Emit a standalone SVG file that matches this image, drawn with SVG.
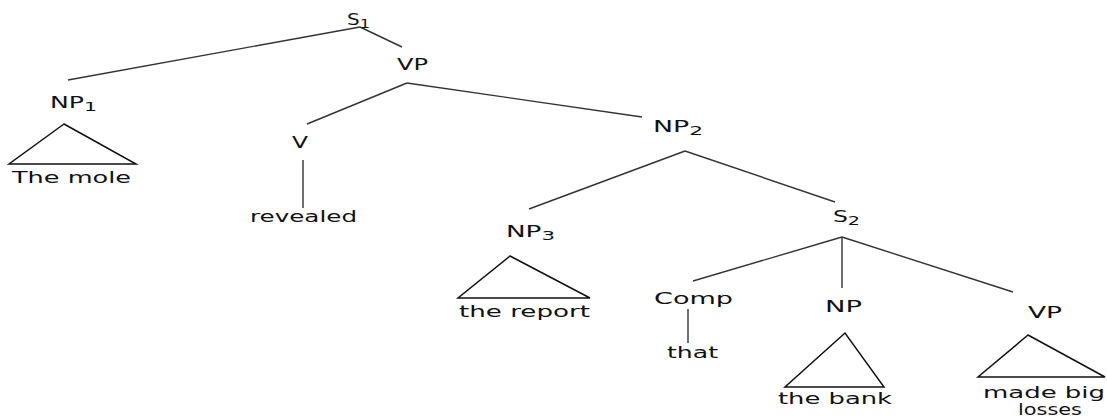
<svg xmlns="http://www.w3.org/2000/svg" width="1107" height="419" viewBox="0 0 1107 419">
<style>
text{font-family:"DejaVu Sans","Open Sans",sans-serif;font-size:16px;fill:#111;text-anchor:middle}
.sub{font-size:13px}
line{stroke:#333;stroke-width:1.4;fill:none}
.tri{stroke:#111;stroke-width:1.5;fill:none}
</style>
<rect width="1107" height="419" fill="#fff"/>
<g id="connectors">
<line x1="360" y1="27" x2="68" y2="80"/>
<line x1="360" y1="27" x2="402" y2="47"/>
<line x1="407" y1="83" x2="307" y2="124"/>
<line x1="407" y1="83" x2="642" y2="117"/>
<line x1="303" y1="160" x2="303" y2="208"/>
<line x1="685" y1="151" x2="529" y2="209"/>
<line x1="685" y1="151" x2="835" y2="202"/>
<line x1="842" y1="237" x2="693" y2="281"/>
<line x1="842" y1="237" x2="842" y2="288"/>
<line x1="842" y1="237" x2="1013" y2="292"/>
<line x1="688" y1="309" x2="688" y2="343"/>
</g>
<g id="S1"><text x="358.5" y="25" textLength="23" lengthAdjust="spacingAndGlyphs">S<tspan class="sub" dy="3">1</tspan></text></g>
<g id="VP1"><text x="412.5" y="70" textLength="31" lengthAdjust="spacingAndGlyphs">VP</text></g>
<g id="NP1"><text x="73.5" y="108" textLength="47" lengthAdjust="spacingAndGlyphs">NP<tspan class="sub" dy="3">1</tspan></text>
<polygon class="tri" points="64,124 9,164 136,164"/>
<text x="71.5" y="183" textLength="119" lengthAdjust="spacingAndGlyphs">The mole</text></g>
<g id="V"><text x="300" y="148" textLength="16" lengthAdjust="spacingAndGlyphs">V</text>
<text x="303.5" y="222" textLength="107" lengthAdjust="spacingAndGlyphs">revealed</text></g>
<g id="NP2"><text x="678" y="132" textLength="50" lengthAdjust="spacingAndGlyphs">NP<tspan class="sub" dy="3">2</tspan></text></g>
<g id="NP3"><text x="530.5" y="237" textLength="49" lengthAdjust="spacingAndGlyphs">NP<tspan class="sub" dy="3">3</tspan></text>
<polygon class="tri" points="510,256 458,298 590,298"/>
<text x="524.5" y="317" textLength="131" lengthAdjust="spacingAndGlyphs">the report</text></g>
<g id="S2"><text x="846.5" y="222" textLength="27" lengthAdjust="spacingAndGlyphs">S<tspan class="sub" dy="3">2</tspan></text></g>
<g id="Comp"><text x="693.5" y="304" textLength="79" lengthAdjust="spacingAndGlyphs">Comp</text>
<text x="692.5" y="358" textLength="51" lengthAdjust="spacingAndGlyphs">that</text></g>
<g id="NP"><text x="843.5" y="312" textLength="37" lengthAdjust="spacingAndGlyphs">NP</text>
<polygon class="tri" points="845,333 785,387 884,387"/>
<text x="835" y="404" textLength="114" lengthAdjust="spacingAndGlyphs">the bank</text></g>
<g id="VP2"><text x="1045" y="318" textLength="34" lengthAdjust="spacingAndGlyphs">VP</text>
<polygon class="tri" points="1028,335 978,377 1105,377"/>
<text x="1044" y="398" textLength="122" lengthAdjust="spacingAndGlyphs">made big</text>
<text x="1050" y="415" textLength="64" lengthAdjust="spacingAndGlyphs">losses</text></g>
</svg>
